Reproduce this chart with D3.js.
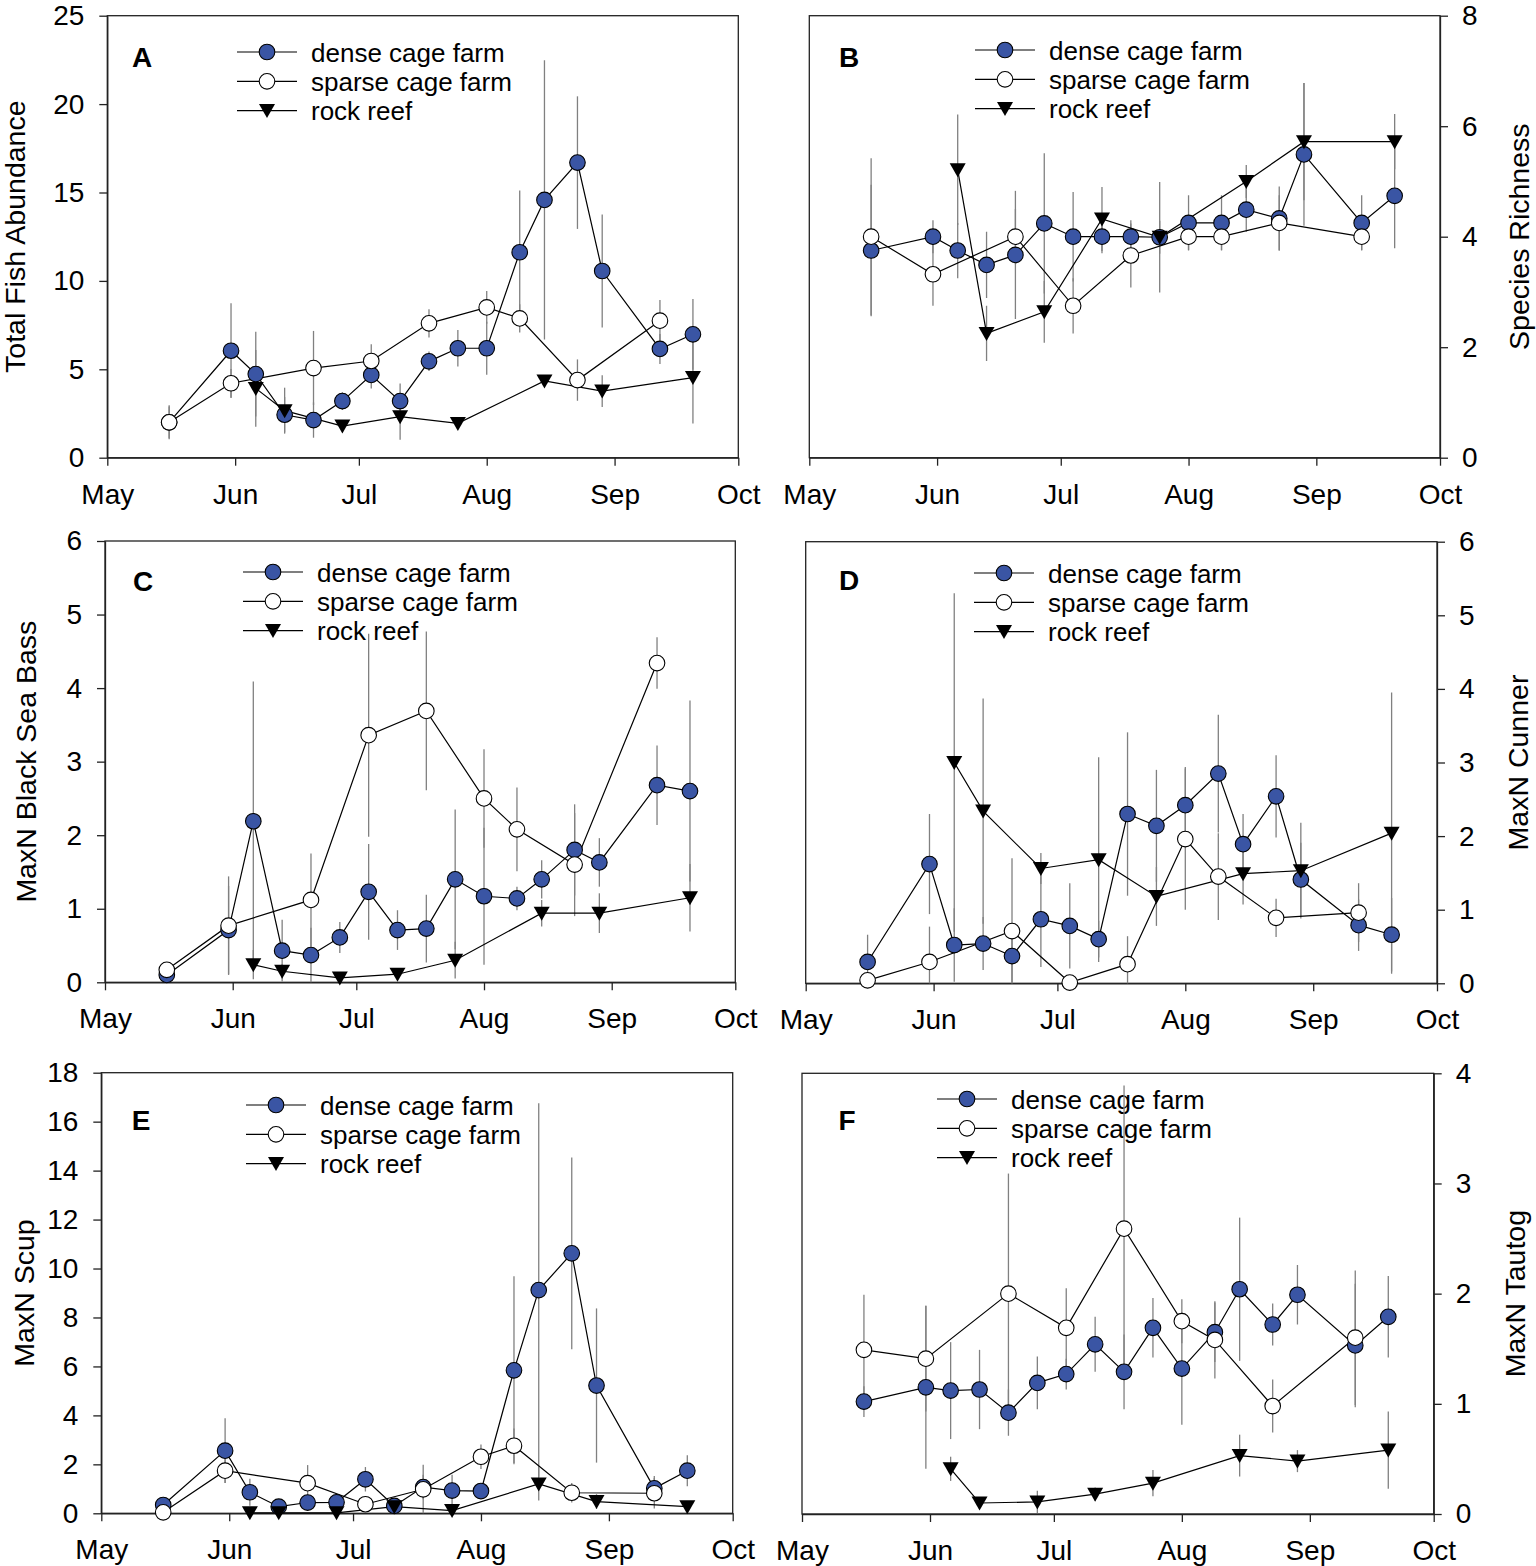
<!DOCTYPE html>
<html>
<head>
<meta charset="utf-8">
<script src="https://cdn.jsdelivr.net/npm/d3@7"></script>
<style>
	body { margin: 0; background: #fff; }
	svg { display: block; }
</style>
</head>
<body>
<div id="vis"></div>
<script>

// survey dates for each site type (same in every panel)
var denseDates = ["May 16", "May 31", "Jun 6", "Jun 13", "Jun 20", "Jun 27", "Jul 4", "Jul 11", "Jul 18",
	"Jul 25", "Aug 1", "Aug 9", "Aug 15", "Aug 23", "Aug 29", "Sep 12", "Sep 20"];
var sparseDates = ["May 16", "May 31", "Jun 20", "Jul 4", "Jul 18", "Aug 1", "Aug 9", "Aug 23", "Sep 12"];
var reefDates = ["Jun 6", "Jun 13", "Jun 27", "Jul 11", "Jul 25", "Aug 15", "Aug 29", "Sep 20"];

var seriesNames = ["dense cage farm", "sparse cage farm", "rock reef"];
var monthLabels = ["May", "Jun", "Jul", "Aug", "Sep", "Oct"];

// A - total fish abundance
var aDense = [2.0, 6.05, 4.73, 2.43, 2.13, 3.2, 4.68, 3.2, 5.45, 6.19, 6.19, 11.62, 14.58, 16.69, 10.56, 6.15, 6.98];
var aDenseErr = [0.9, 2.68, 2.4, 1.0, 1.0, 0.5, 0.76, 1.0, 0.55, 1.03, 1.5, 3.5, 7.9, 3.75, 3.2, 0.85, 2.0];
var aSparse = [2.0, 4.21, 5.07, 5.47, 7.6, 8.5, 7.88, 4.39, 7.75];
var aSparseErr = [0.96, 0.8, 2.1, 0.95, 0.8, 0.93, 0.8, 1.17, 1.17];
var aReef = [3.92, 2.66, 1.79, 2.32, 1.94, 4.34, 3.77, 4.53];
var aReefErr = [2.17, 1.3, 0.3, 1.3, 0.3, 0.3, 0.9, 2.6];

// B - species richness
var bDense = [3.75, 4.0, 3.75, 3.49, 3.67, 4.24, 4.0, 4.0, 4.0, 3.99, 4.25, 4.25, 4.49, 4.33, 5.49, 4.25, 4.74];
var bDenseErr = [1.19, 0.3, 0.5, 0.6, 1.16, 1.27, 0.81, 0.3, 0.3, 0.3, 0.5, 0.5, 0.4, 0.58, 1.29, 0.5, 0.95];
var bSparse = [4.0, 3.32, 4.0, 2.75, 3.66, 4.0, 4.0, 4.25, 4.0];
var bSparseErr = [1.42, 0.57, 0.5, 0.5, 0.58, 0.24, 0.24, 0.5, 0.24];
var bReef = [5.21, 2.25, 2.64, 4.32, 3.99, 5.0, 5.72, 5.72];
var bReefErr = [1.0, 0.5, 0.56, 0.58, 1.0, 0.3, 1.06, 0.5];

// C - black sea bass
var cDense = [0.1, 0.71, 2.19, 0.43, 0.37, 0.61, 1.23, 0.71, 0.73, 1.4, 1.17, 1.14, 1.4, 1.8, 1.63, 2.68, 2.6];
var cDenseErr = [0.05, 0.6, 1.9, 0.42, 0.37, 0.21, 0.65, 0.27, 0.46, 0.95, 0.93, 0.16, 0.26, 0.62, 0.33, 0.54, 1.23];
var cSparse = [0.17, 0.77, 1.12, 3.36, 3.69, 2.5, 2.08, 1.6, 4.34];
var cSparseErr = [0.05, 0.67, 0.63, 1.38, 1.08, 0.67, 0.57, 0.7, 0.35];
var cReef = [0.24, 0.15, 0.06, 0.11, 0.3, 0.94, 0.94, 1.15];
var cReefErr = [0.2, 0.1, 0.05, 0.05, 0.25, 0.18, 0.27, 0.46];

// D - cunner
var dDense = [0.29, 1.62, 0.52, 0.54, 0.37, 0.87, 0.78, 0.6, 2.3, 2.14, 2.42, 2.85, 1.89, 2.54, 1.41, 0.79, 0.66];
var dDenseErr = [0.37, 0.68, 0.5, 0.36, 0.37, 0.65, 0.58, 0.25, 1.11, 0.76, 0.52, 0.8, 0.41, 0.56, 0.5, 0.35, 0.5];
var dSparse = [0.04, 0.29, 0.71, 0.01, 0.26, 1.96, 1.45, 0.89, 0.96];
var dSparseErr = [0.05, 0.48, 0.99, 0.1, 0.38, 0.96, 0.59, 0.26, 0.4];
var dReef = [3.0, 2.34, 1.56, 1.68, 1.18, 1.49, 1.53, 2.04];
var dReefErr = [2.3, 1.53, 0.21, 1.39, 0.4, 0.42, 0.65, 1.91];

// E - scup
var eDense = [0.34, 2.56, 0.86, 0.27, 0.44, 0.45, 1.39, 0.3, 1.07, 0.93, 0.91, 5.84, 9.12, 10.62, 5.22, 1.02, 1.74];
var eDenseErr = [0.2, 1.32, 0.55, 0.2, 0.2, 0.2, 0.5, 0.2, 0.5, 0.64, 0.3, 3.84, 7.63, 3.92, 3.15, 0.5, 0.63];
var eSparse = [0.04, 1.74, 1.23, 0.37, 0.98, 2.31, 2.76, 0.84, 0.82];
var eSparseErr = [0.1, 0.5, 0.74, 0.3, 1.0, 0.5, 0.7, 0.4, 0.62];
var eReef = [0.02, 0.02, 0.02, 0.27, 0.11, 1.2, 0.48, 0.27];
var eReefErr = [0, 0, 0, 0.2, 0.1, 0.68, 0.3, 0.2];

// F - tautog
var fDense = [1.02, 1.15, 1.12, 1.13, 0.92, 1.19, 1.27, 1.54, 1.29, 1.69, 1.32, 1.65, 2.04, 1.72, 1.99, 1.53, 1.79];
var fDenseErr = [0.14, 0.74, 0.44, 0.36, 0.21, 0.24, 0.14, 0.25, 0.34, 0.27, 0.51, 0.27, 0.65, 0.19, 0.27, 0.56, 0.37];
var fSparse = [1.49, 1.41, 2.0, 1.69, 2.59, 1.75, 1.58, 0.98, 1.6];
var fSparseErr = [0.5, 0.48, 1.09, 0.36, 1.3, 0.2, 0.35, 0.24, 0.61];
var fReef = [0.41, 0.1, 0.11, 0.18, 0.28, 0.53, 0.48, 0.58];
var fReefErr = [0.11, 0.05, 0.1, 0.06, 0.12, 0.19, 0.1, 0.35];

var blue = "#3a55a4";
var axisColor = "#222";
var font = "Arial, 'Liberation Sans', sans-serif";

var parse = d3.timeParse("%b %d");
var xDomain = [parse("May 1"), parse("Oct 1")];

// plot area of every panel, in page pixels
var panels = [
	{ letter: "A", left: 107.3, right: 738.3, top: 15.7, bottom: 457.7, yMax: 25, yStep: 5, side: "left",
		title: "Total Fish Abundance", titleX: 14.5, letterX: 142, letterY: 57, legendX: 237, legendY: 52,
		vals: [aDense, aSparse, aReef], errs: [aDenseErr, aSparseErr, aReefErr] },
	{ letter: "B", left: 809.3, right: 1440, top: 15.7, bottom: 457.7, yMax: 8, yStep: 2, side: "right",
		title: "Species Richness", titleX: 1519, letterX: 849, letterY: 57, legendX: 975, legendY: 50,
		vals: [bDense, bSparse, bReef], errs: [bDenseErr, bSparseErr, bReefErr] },
	{ letter: "C", left: 105, right: 735.3, top: 541, bottom: 982.3, yMax: 6, yStep: 1, side: "left",
		title: "MaxN Black Sea Bass", titleX: 26, letterX: 143, letterY: 581, legendX: 243, legendY: 572,
		vals: [cDense, cSparse, cReef], errs: [cDenseErr, cSparseErr, cReefErr] },
	{ letter: "D", left: 805.7, right: 1437, top: 541.7, bottom: 983.3, yMax: 6, yStep: 1, side: "right",
		title: "MaxN Cunner", titleX: 1518, letterX: 849, letterY: 580, legendX: 974, legendY: 573,
		vals: [dDense, dSparse, dReef], errs: [dDenseErr, dSparseErr, dReefErr] },
	{ letter: "E", left: 101.3, right: 732.7, top: 1072.7, bottom: 1513.3, yMax: 18, yStep: 2, side: "left",
		title: "MaxN Scup", titleX: 24, letterX: 141, letterY: 1120, legendX: 246, legendY: 1105,
		vals: [eDense, eSparse, eReef], errs: [eDenseErr, eSparseErr, eReefErr] },
	{ letter: "F", left: 802, right: 1433.7, top: 1073.3, bottom: 1514, yMax: 4, yStep: 1, side: "right",
		title: "MaxN Tautog", titleX: 1515, letterX: 847, letterY: 1120, legendX: 937, legendY: 1099,
		vals: [fDense, fSparse, fReef], errs: [fDenseErr, fSparseErr, fReefErr] }
];

var svg = d3.select("#vis").append("svg")
	.attr("width", 1536)
	.attr("height", 1566)
	.style("font-family", font);

var triangle = "M-8,-6.5L8,-6.5L0,7.5Z";

function drawMarker(g, k, cx, cy) {
	if (k == 2) {
		g.append("path")
			.attr("d", triangle)
			.attr("transform", "translate(" + cx + "," + cy + ")")
			.attr("fill", "#000");
	} else {
		g.append("circle")
			.attr("cx", cx).attr("cy", cy).attr("r", 7.8)
			.attr("fill", k == 0 ? blue : "#fff")
			.attr("stroke", "#000").attr("stroke-width", 1.1);
	}
}

function drawPanel(p) {
	var x = d3.scaleTime().domain(xDomain).range([p.left, p.right]);
	var y = d3.scaleLinear().domain([0, p.yMax]).range([p.bottom, p.top]);
	var g = svg.append("g");

	// frame
	g.append("rect")
		.attr("x", p.left).attr("y", p.top)
		.attr("width", p.right - p.left).attr("height", p.bottom - p.top)
		.attr("fill", "none").attr("stroke", axisColor).attr("stroke-width", 1.3);

	var xAxis = d3.axisBottom(x)
		.ticks(d3.timeMonth.every(1))
		.tickFormat(function (d, i) { return monthLabels[i]; })
		.tickSize(8).tickSizeOuter(0).tickPadding(18);
	var gx = g.append("g").attr("transform", "translate(0," + p.bottom + ")").call(xAxis);

	var yTicks = d3.range(0, p.yMax + 0.001, p.yStep);
	var yAxis = (p.side == "left" ? d3.axisLeft(y) : d3.axisRight(y))
		.tickValues(yTicks).tickFormat(d3.format("d"))
		.tickSize(8).tickSizeOuter(0).tickPadding(p.side == "left" ? 15 : 14);
	var gy = g.append("g")
		.attr("transform", "translate(" + (p.side == "left" ? p.left : p.right) + ",0)")
		.call(yAxis);

	[gx, gy].forEach(function (a) {
		a.attr("font-family", font).attr("font-size", 28);
		a.selectAll("text").attr("fill", "#000");
		a.selectAll("line, path").attr("stroke", axisColor).attr("stroke-width", 1.3);
	});

	// axis title
	var cy = (p.top + p.bottom) / 2;
	g.append("text")
		.attr("transform", "translate(" + p.titleX + "," + cy + ") rotate(-90)")
		.attr("text-anchor", "middle")
		.attr("dominant-baseline", "central")
		.attr("font-size", 28.5)
		.text(p.title);

	// panel letter
	g.append("text")
		.attr("x", p.letterX).attr("y", p.letterY + 10)
		.attr("text-anchor", "middle")
		.attr("font-size", 28).attr("font-weight", "bold")
		.text(p.letter);

	// legend
	seriesNames.forEach(function (name, k) {
		var ly = p.legendY + k * 29.3;
		g.append("line")
			.attr("x1", p.legendX).attr("x2", p.legendX + 60)
			.attr("y1", ly).attr("y2", ly)
			.attr("stroke", "#000").attr("stroke-width", 1.2);
		drawMarker(g, k, p.legendX + 30, ly);
		g.append("text")
			.attr("x", p.legendX + 74).attr("y", ly + 9.5)
			.attr("font-size", 26)
			.text(name);
	});

	var dates = [denseDates, sparseDates, reefDates];
	var series = p.vals.map(function (vals, k) {
		return vals.map(function (v, i) {
			return { date: parse(dates[k][i]), v: v, e: p.errs[k][i] };
		});
	});

	// error bars
	series.forEach(function (s) {
		g.selectAll(null).data(s).enter().append("line")
			.attr("x1", d => x(d.date)).attr("x2", d => x(d.date))
			.attr("y1", d => y(Math.max(0, d.v - d.e)))
			.attr("y2", d => y(d.v + d.e))
			.attr("stroke", "#808080").attr("stroke-width", 1.3);
	});

	var line = d3.line().x(d => x(d.date)).y(d => y(d.v));
	series.forEach(function (s) {
		g.append("path")
			.attr("d", line(s))
			.attr("fill", "none").attr("stroke", "#000").attr("stroke-width", 1.2);
	});

	series.forEach(function (s, k) {
		s.forEach(function (d) {
			drawMarker(g, k, x(d.date), y(d.v));
		});
	});
}

panels.forEach(drawPanel);

</script>
</body>
</html>
